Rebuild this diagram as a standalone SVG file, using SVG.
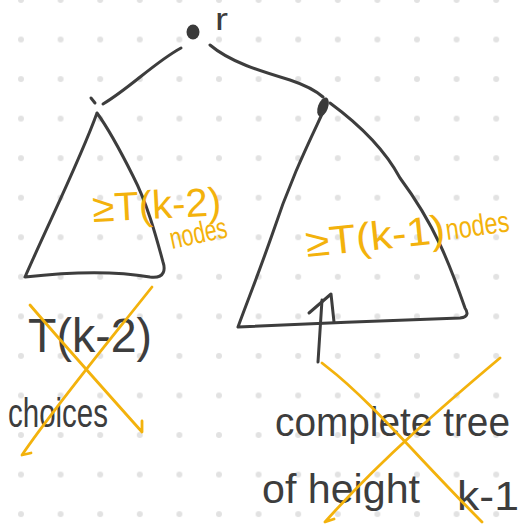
<svg xmlns="http://www.w3.org/2000/svg" width="521" height="530" viewBox="0 0 521 530">
<defs>
<pattern id="dots" patternUnits="userSpaceOnUse" x="1.2" y="-19.8" width="39.6" height="39.55">
<circle cx="19.8" cy="19.775" r="3" fill="#e2e2e2"/>
</pattern>
</defs>
<style>
.ink{fill:none;stroke:#3d3d3d;stroke-width:3;stroke-linecap:round;stroke-linejoin:round}
.blob{fill:#3a3a3a}
.or{fill:none;stroke:#f3b20c;stroke-width:2.8;stroke-linecap:round;stroke-linejoin:round}
.tk{font-family:"Liberation Sans",Arial,sans-serif;fill:#3d3d3d}
.to{font-family:"Liberation Sans",Arial,sans-serif;fill:#f3b20c}
</style>
<rect width="521" height="530" fill="#ffffff"/>
<rect width="521" height="530" fill="url(#dots)"/>

<g id="connectors">
<path class="ink" d="M181,48 C155,62 130,88 103,104"/>
<path class="ink" d="M210,45 C230,62 260,71 290,80 C305,85 315,90 323,97"/>
</g>

<g id="root">
<ellipse class="blob" cx="193" cy="32" rx="6.5" ry="7.5"/>
<text class="tk" x="215" y="30" font-size="31" textLength="13" lengthAdjust="spacingAndGlyphs">r</text>
</g>

<g id="left-subtree">
<path class="ink" d="M91,98 L95,103"/>
<path class="ink" d="M97,113 C80,160 50,220 25,277 C60,273 110,270 150,277 C166,279 165,268 163,262 C157,240 148,205 133,176 C120,150 108,128 97,113"/>
<text class="to" x="93" y="222" font-size="40" textLength="129" lengthAdjust="spacingAndGlyphs" transform="rotate(-3 93 222)">≥T(k-2)</text>
<text class="to" x="172" y="249" font-size="30" textLength="58" lengthAdjust="spacingAndGlyphs" transform="rotate(-12 172 249)">nodes</text>
</g>

<g id="right-subtree">
<ellipse class="blob" cx="323" cy="107" rx="5" ry="10" transform="rotate(20 323 107)"/>
<path class="ink" d="M323,112 C310,140 290,180 272,235 C258,275 246,305 238,327 C300,324 400,320 460,318 C470,317 467,311 465,308 C450,265 435,225 400,178 C385,150 360,125 330,103"/>
<text class="to" x="307" y="257" font-size="40" textLength="140" lengthAdjust="spacingAndGlyphs" transform="rotate(-6 307 257)">≥T(k-1)</text>
<text class="to" x="0" y="0" font-size="24" textLength="64" lengthAdjust="spacingAndGlyphs" transform="translate(447 240) rotate(-8) scale(1 1.25)">nodes</text>
</g>

<g id="arrow">
<path class="ink" d="M318,362 L322,300"/>
<path class="ink" d="M309,313 L331,294 L334,322"/>
</g>

<g id="left-label">
<text class="tk" x="28" y="352" font-size="48" textLength="124" lengthAdjust="spacingAndGlyphs">T(k-2)</text>
<text class="tk" x="8" y="427" font-size="40" textLength="100" lengthAdjust="spacingAndGlyphs">choices</text>
<path class="or" d="M30,305 C60,340 100,385 142,432 L142,421"/>
<path class="or" d="M152,287 C110,340 60,400 22,455 L31,453"/>
</g>

<g id="right-label">
<text class="tk" x="275" y="436" font-size="40" textLength="235" lengthAdjust="spacingAndGlyphs">complete tree</text>
<text class="tk" x="262" y="503" font-size="40"><tspan textLength="158" lengthAdjust="spacingAndGlyphs">of height</tspan><tspan x="457" y="510" textLength="62" lengthAdjust="spacingAndGlyphs">k-1</tspan></text>
<path class="or" d="M322,363 L327,367 C370,400 420,460 482,522"/>
<path class="or" d="M500,358 C450,400 380,460 325,522 L334,519"/>
</g>
</svg>
